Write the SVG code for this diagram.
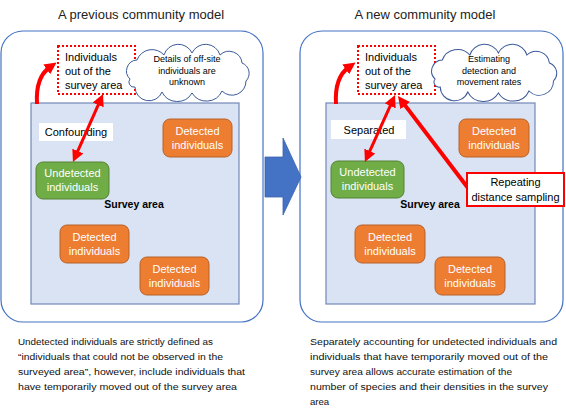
<svg xmlns="http://www.w3.org/2000/svg" width="566" height="411" viewBox="0 0 566 411">
<style>
text{font-family:"Liberation Sans","DejaVu Sans",sans-serif;}
.title{font-size:13px;fill:#222;text-anchor:middle;}
.panel{fill:#fff;stroke:#4472c4;stroke-width:1.2;}
.survey{fill:#dae3f3;stroke:#7388b8;stroke-width:1.2;}
.det{fill:#ed7d31;stroke:#b8622a;stroke-width:1;}
.und{fill:#70ad47;stroke:#548235;stroke-width:1;}
.nt{font-size:11px;fill:#fff;text-anchor:middle;}
.dot{fill:#fff;stroke:#ff0000;stroke-width:2;stroke-dasharray:2 2;}
.lbl{font-size:11px;fill:#000;}
.cloud{fill:#fff;stroke:#3c5a9a;stroke-width:1;}
.ct{font-size:9px;fill:#000;text-anchor:middle;}
.sa{font-size:10.5px;font-weight:bold;fill:#000;text-anchor:middle;}
.body{font-size:9.6px;fill:#111;}
.arr{fill:none;stroke:#ff0000;stroke-width:4;}
.arr3{fill:none;stroke:#ff0000;stroke-width:3;}
</style>
<defs>
<marker id="ah" markerUnits="userSpaceOnUse" viewBox="0 0 12 12" markerWidth="12" markerHeight="12" refX="4" refY="6" orient="auto-start-reverse">
<path d="M0,0 L12,6 L0,12 Z" fill="#ff0000"/>
</marker>
<path id="cloudshape" d="M8,34 A11,11 0 0 1 15,15 A16,16 0 0 1 42,10 A15,15 0 0 1 70,8 A15,15 0 0 1 98,10 A13,13 0 0 1 120,18 A11,11 0 0 1 124,36 A14,14 0 0 1 100,46 A17,17 0 0 1 70,48 A17,17 0 0 1 40,47 A14,14 0 0 1 13,42 A5,5 0 0 1 8,34 Z"/>
</defs>
<rect width="566" height="411" fill="#fff"/>

<text class="title" x="141" y="19">A previous community model</text>
<text class="title" x="425" y="19">A new community model</text>

<g id="panel-left"><rect class="panel" x="1" y="31" width="262" height="291" rx="22"/></g>
<g id="panel-right"><rect class="panel" x="300" y="31" width="263" height="291" rx="22"/></g>

<g id="big-arrow"><polygon points="265,157 283,157 283,138 301,177 283,215 283,197 265,197" fill="#4472c4" stroke="#3a62ad" stroke-width="0.8"/></g>

<g id="survey-left"><rect class="survey" x="31" y="103" width="208" height="201"/><text class="sa" x="134" y="208">Survey area</text></g>
<g id="survey-right"><rect class="survey" x="326" y="103" width="209" height="201"/><text class="sa" x="430" y="208">Survey area</text></g>

<g id="out-left"><rect class="dot" x="58" y="46" width="77" height="48"/>
<text class="lbl" x="65" y="61">Individuals</text><text class="lbl" x="65" y="75">out of the</text><text class="lbl" x="65" y="89">survey area</text></g>
<g id="out-right"><rect class="dot" x="358" y="46" width="77" height="48"/>
<text class="lbl" x="365" y="61">Individuals</text><text class="lbl" x="365" y="75">out of the</text><text class="lbl" x="365" y="89">survey area</text></g>

<g id="cloud-left"><use href="#cloudshape" class="cloud" transform="translate(122,45)"/>
<text class="ct" x="187" y="62">Details of off-site</text><text class="ct" x="187" y="74">individuals are</text><text class="ct" x="187" y="85">unknown</text></g>
<g id="cloud-right"><use href="#cloudshape" class="cloud" transform="translate(427,45) scale(1.02,1)"/>
<text class="ct" x="489" y="62">Estimating</text><text class="ct" x="489" y="74">detection and</text><text class="ct" x="489" y="85">movement rates</text></g>

<g id="confounding"><rect x="39" y="123" width="74" height="18" fill="#fff"/><text class="lbl" x="76" y="136" text-anchor="middle">Confounding</text></g>
<g id="separated"><rect x="331" y="120" width="75" height="19" fill="#fff"/><text class="lbl" x="369" y="134" text-anchor="middle">Separated</text></g>

<g id="det-l1"><rect class="det" x="163" y="119" width="69" height="38" rx="7"/><text class="nt" x="197.5" y="135">Detected</text><text class="nt" x="197.5" y="149">individuals</text></g>
<g id="und-l"><rect class="und" x="36" y="162" width="73" height="37" rx="7"/><text class="nt" x="72.5" y="177">Undetected</text><text class="nt" x="72.5" y="191">individuals</text></g>
<g id="det-l2"><rect class="det" x="60" y="225" width="69" height="38" rx="7"/><text class="nt" x="94.5" y="241">Detected</text><text class="nt" x="94.5" y="255">individuals</text></g>
<g id="det-l3"><rect class="det" x="140" y="257" width="69" height="38" rx="7"/><text class="nt" x="174.5" y="273">Detected</text><text class="nt" x="174.5" y="287">individuals</text></g>

<g id="det-r1"><rect class="det" x="459" y="119" width="70" height="38" rx="7"/><text class="nt" x="494" y="135">Detected</text><text class="nt" x="494" y="149">individuals</text></g>
<g id="und-r"><rect class="und" x="331" y="161" width="73" height="37" rx="7"/><text class="nt" x="367.5" y="176">Undetected</text><text class="nt" x="367.5" y="190">individuals</text></g>
<g id="det-r2"><rect class="det" x="355" y="225" width="70" height="38" rx="7"/><text class="nt" x="390" y="241">Detected</text><text class="nt" x="390" y="255">individuals</text></g>
<g id="det-r3"><rect class="det" x="435" y="257" width="70" height="38" rx="7"/><text class="nt" x="470" y="273">Detected</text><text class="nt" x="470" y="287">individuals</text></g>

<g id="connectors">
<path class="arr" d="M37,104 C36,88 40,74 50,67" marker-end="url(#ah)"/>
<path class="arr3" d="M99.8,101.3 L76.2,154.7" marker-start="url(#ah)" marker-end="url(#ah)"/>
<path class="arr" d="M336,104 C335,88 339,74 349,67" marker-end="url(#ah)"/>
<path class="arr3" d="M391.8,102.3 L368.2,154.7" marker-start="url(#ah)" marker-end="url(#ah)"/>
<path class="arr" d="M468,188 L402.8,102.4" marker-end="url(#ah)"/>
</g>

<g id="repeating"><rect x="467" y="173" width="97" height="33" fill="#fff" stroke="#ff0000" stroke-width="2"/>
<text class="lbl" x="515.5" y="186" text-anchor="middle">Repeating</text><text class="lbl" x="515.5" y="201" text-anchor="middle">distance sampling</text></g>

<g id="caption-left">
<text class="body" x="18" y="345" textLength="195" lengthAdjust="spacingAndGlyphs">Undetected individuals are strictly defined as</text>
<text class="body" x="18" y="360" textLength="205" lengthAdjust="spacingAndGlyphs">“individuals that could not be observed in the</text>
<text class="body" x="18" y="375" textLength="227" lengthAdjust="spacingAndGlyphs">surveyed area”, however, include individuals that</text>
<text class="body" x="18" y="390" textLength="219" lengthAdjust="spacingAndGlyphs">have temporarily moved out of the survey area</text>
</g>
<g id="caption-right">
<text class="body" x="310" y="345" textLength="247" lengthAdjust="spacingAndGlyphs">Separately accounting for undetected individuals and</text>
<text class="body" x="310" y="360" textLength="238" lengthAdjust="spacingAndGlyphs">individuals that have temporarily moved out of the</text>
<text class="body" x="310" y="375" textLength="202" lengthAdjust="spacingAndGlyphs">survey area allows accurate estimation of the</text>
<text class="body" x="310" y="390" textLength="238" lengthAdjust="spacingAndGlyphs">number of species and their densities in the survey</text>
<text class="body" x="310" y="405">area</text>
</g>
</svg>
